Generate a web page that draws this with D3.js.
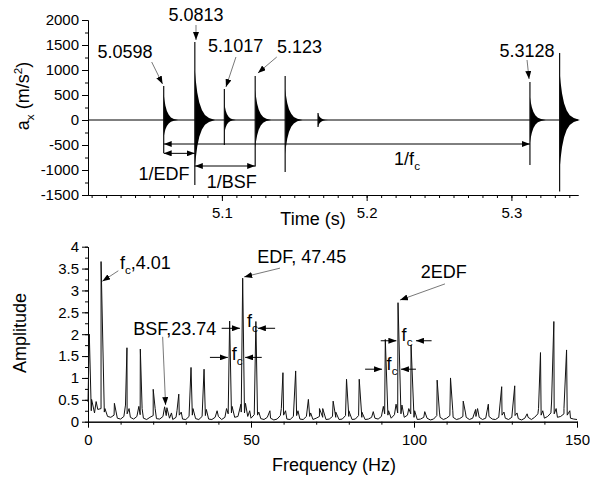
<!DOCTYPE html>
<html>
<head>
<meta charset="utf-8">
<script src="https://cdn.jsdelivr.net/npm/d3@7"></script>
<style>
  body { margin: 0; background: #fff; }
  svg text { font-family: "Liberation Sans", Arial, sans-serif; fill: #000; }
  .tick text { font-size: 15px; }
  .domain, .tick line { stroke: #000; }
</style>
</head>
<body>
<div class="chart"></div>
<script>
// ---- top panel: time signal (bursts) ----
var burstTime     = [5.0598, 5.0813, 5.1017, 5.123, 5.1437, 5.1664, 5.3128, 5.3333];
var burstSpikeUp  = [680, 1560, 620, 880, 880, 140, 760, 1340];
var burstSpikeDn  = [-660, -1300, -500, -930, -1040, -140, -900, -1430];
var burstBodyUp   = [520, 1000, 340, 600, 620, 140, 460, 960];
var burstBodyDn   = [-340, -960, -260, -560, -680, -140, -460, -980];
var burstLength   = [0.010, 0.014, 0.008, 0.011, 0.012, 0.007, 0.011, 0.014];
// shared decay envelope (fraction of burst length, fraction of body height)
var decayFrac = [0, 0.05, 0.12, 0.22, 0.35, 0.5, 0.7, 1];
var decayRel  = [1, 0.78, 0.55, 0.35, 0.2, 0.1, 0.04, 0];

var accelTicks = [-1500, -1000, -500, 0, 500, 1000, 1500, 2000];
var timeTicks  = [5.1, 5.2, 5.3];

// ---- bottom panel: spectrum ----
// noise floor every 1 Hz from 0 to 150 Hz
var floorAmp = [0.45,0.25,0.2,0.28,0.3,0.22,0.12,0.1,0.15,0.08,
  0.06,0.12,0.18,0.1,0.06,0.12,0.16,0.08,0.05,0.1,
  0.14,0.07,0.06,0.12,0.14,0.08,0.05,0.1,0.15,0.06,
  0.05,0.12,0.15,0.07,0.05,0.12,0.14,0.06,0.05,0.1,
  0.12,0.05,0.1,0.18,0.2,0.1,0.12,0.22,0.2,0.12,
  0.08,0.16,0.15,0.07,0.05,0.1,0.08,0.04,0.06,0.14,
  0.15,0.06,0.05,0.12,0.14,0.06,0.05,0.12,0.12,0.05,
  0.08,0.12,0.1,0.05,0.06,0.12,0.1,0.05,0.06,0.14,
  0.12,0.05,0.06,0.14,0.1,0.05,0.06,0.1,0.08,0.06,
  0.12,0.18,0.15,0.08,0.16,0.2,0.18,0.1,0.15,0.18,
  0.1,0.05,0.06,0.1,0.08,0.04,0.06,0.14,0.1,0.05,
  0.08,0.14,0.1,0.05,0.07,0.12,0.1,0.05,0.08,0.12,
  0.1,0.05,0.08,0.12,0.06,0.05,0.1,0.15,0.08,0.05,
  0.1,0.14,0.07,0.04,0.08,0.1,0.05,0.1,0.18,0.15,
  0.08,0.12,0.2,0.18,0.1,0.12,0.18,0.15,0.08,0.06,0.05];

var peakFreq = [0.4, 1.1, 2.5, 4.01, 5.2, 8.1, 11.5, 11.95, 12.6, 15.6, 16.05, 16.6,
  20.0, 20.6, 23.5, 24.2, 25.6, 27.3, 27.85, 28.6, 31.6, 32.2, 35.6, 36.3, 39.6,
  42.5, 43.45, 44.2, 46.9, 47.45, 48.3, 49.6, 51.5, 52.4, 55.8, 59.3, 59.8, 60.6,
  63.7, 64.4, 67.6, 68.3, 71.0, 72.0, 75.2, 76.0, 79.3, 80.0, 83.2, 84.0, 87.5,
  90.6, 91.2, 92.2, 94.5, 95.1, 96.3, 98.4, 99.1, 100.2, 103.3, 107.1, 107.8,
  111.2, 111.9, 115.1, 115.8, 118.9, 119.5, 122.8, 126.9, 127.6, 130.9, 131.6,
  134.7, 138.2, 138.8, 139.5, 142.2, 142.9, 143.6, 146.0, 146.8, 147.8];
var peakAmp = [2.0, 0.51, 0.46, 3.66, 0.3, 0.42, 0.38, 1.69, 0.3, 0.35, 1.66, 0.3,
  0.74, 0.3, 0.34, 0.32, 0.2, 0.25, 0.63, 0.22, 1.24, 0.3, 1.2, 0.28, 0.25,
  0.3, 2.3, 0.35, 0.4, 3.28, 0.42, 0.25, 2.29, 0.22, 0.25, 0.3, 1.12, 0.25,
  1.16, 0.25, 0.51, 0.2, 0.3, 0.3, 0.47, 0.22, 0.97, 0.25, 0.97, 0.22, 0.23,
  0.35, 1.88, 0.25, 0.4, 2.72, 0.38, 0.3, 1.75, 0.25, 0.23, 0.95, 0.22,
  1.0, 0.25, 0.47, 0.2, 0.28, 0.3, 0.4, 0.8, 0.22, 0.82, 0.2,
  0.18, 0.3, 1.58, 0.25, 0.45, 2.29, 0.3, 0.3, 1.64, 0.25];

var ampTicks  = [0, 0.5, 1, 1.5, 2, 2.5, 3, 3.5, 4];
var freqTicks = [0, 50, 100, 150];

var width = 590, height = 481;

var svg = d3.select(".chart").append("svg")
  .attr("width", width)
  .attr("height", height);

var defs = svg.append("defs");
defs.append("marker")
  .attr("id", "arrow")
  .attr("viewBox", "0 0 8 6")
  .attr("refX", 8).attr("refY", 3)
  .attr("markerWidth", 8).attr("markerHeight", 6)
  .attr("markerUnits", "userSpaceOnUse")
  .attr("orient", "auto-start-reverse")
  .append("path")
  .attr("d", "M0,0 L8,3 L0,6 Z")
  .attr("fill", "#000");

// text with sub/superscripts
function richText(sel, x, y, parts, size, anchor, transform) {
  var t = sel.append("text")
    .attr("x", x).attr("y", y)
    .attr("font-size", size)
    .attr("text-anchor", anchor || "start");
  if (transform) t.attr("transform", transform);
  var shift = 0;
  parts.forEach(function(p) {
    var target = p[1] === "sub" ? 5 : p[1] === "sup" ? -7 : 0;
    t.append("tspan")
      .attr("dy", target - shift)
      .attr("font-size", p[1] ? size * 0.65 : size)
      .text(p[0]);
    shift = target;
  });
  return t;
}

var plainNum = function(d) { return String(d); };

// ================= TOP PANEL =================
var xTime = d3.scaleLinear().domain([5.0075, 5.346]).range([88, 578]);
var yAcc  = d3.scaleLinear().domain([-1500, 2000]).range([195, 20]);

var topPanel = svg.append("g").attr("class", "topPanel");

// axes
topPanel.append("g")
  .attr("transform", "translate(0,195)")
  .call(d3.axisBottom(xTime)
    .tickValues(d3.range(501, 535).map(function(v) { return v / 100; }))
    .tickSize(3).tickSizeOuter(0).tickFormat(""));
topPanel.append("g")
  .attr("transform", "translate(0,195)")
  .call(d3.axisBottom(xTime).tickValues(timeTicks)
    .tickSize(6).tickSizeOuter(0).tickPadding(6)
    .tickFormat(d3.format(".1f")));
topPanel.append("g")
  .attr("transform", "translate(88,0)")
  .call(d3.axisLeft(yAcc).tickValues(d3.range(-1500, 2001, 250))
    .tickSize(3).tickSizeOuter(0).tickFormat(""));
topPanel.append("g")
  .attr("transform", "translate(88,0)")
  .call(d3.axisLeft(yAcc).tickValues(accelTicks)
    .tickSize(6).tickSizeOuter(0).tickPadding(3).tickFormat(plainNum));

// zero line
topPanel.append("line")
  .attr("x1", xTime(5.0075)).attr("x2", xTime(5.346))
  .attr("y1", yAcc(0)).attr("y2", yAcc(0))
  .attr("stroke", "#000").attr("stroke-width", 1);

// bursts
var burstArea = d3.area()
  .x(function(d) { return xTime(d.t); })
  .y0(function(d) { return yAcc(d.lo); })
  .y1(function(d) { return yAcc(d.hi); });

burstTime.forEach(function(t0, i) {
  var pts = decayFrac.map(function(f, k) {
    return { t: t0 + f * burstLength[i],
             hi: burstBodyUp[i] * decayRel[k],
             lo: burstBodyDn[i] * decayRel[k] };
  });
  topPanel.append("path").attr("d", burstArea(pts)).attr("fill", "#000");
  topPanel.append("line")
    .attr("x1", xTime(t0)).attr("x2", xTime(t0))
    .attr("y1", yAcc(burstSpikeDn[i])).attr("y2", yAcc(burstSpikeUp[i]))
    .attr("stroke", "#111").attr("stroke-width", 1.2);
});

// peak time labels
var timeLabels = [
  { text: "5.0598", t: 5.0331, v: 1240, from: [5.0515, 1160], to: [5.0590, 720] },
  { text: "5.0813", t: 5.0821, v: 1980, from: [5.0821, 1900], to: [5.0821, 1600] },
  { text: "5.1017", t: 5.1095, v: 1360, from: [5.1097, 1260], to: [5.1028, 660] },
  { text: "5.123",  t: 5.1536, v: 1340, from: [5.1379, 1260], to: [5.1249, 940] },
  { text: "5.3128", t: 5.3108, v: 1260, from: [5.3108, 1200], to: [5.3122, 820] }
];
timeLabels.forEach(function(d) {
  topPanel.append("text")
    .attr("x", xTime(d.t)).attr("y", yAcc(d.v))
    .attr("text-anchor", "middle").attr("font-size", 18)
    .text(d.text);
  topPanel.append("line")
    .attr("x1", xTime(d.from[0])).attr("y1", yAcc(d.from[1]))
    .attr("x2", xTime(d.to[0])).attr("y2", yAcc(d.to[1]))
    .attr("stroke", "#555").attr("stroke-width", 0.8)
    .attr("marker-end", "url(#arrow)");
});

// period brackets
var periods = [
  { t1: 5.0598, t2: 5.3128, v: -480, label: [["1/f"], ["c", "sub"]], lt: 5.2279, lv: -900 },
  { t1: 5.0598, t2: 5.0813, v: -667, label: [["1/EDF"]], lt: 5.0600, lv: -1200 },
  { t1: 5.0813, t2: 5.123,  v: -920, label: [["1/BSF"]], lt: 5.1068, lv: -1360 }
];
periods.forEach(function(d) {
  topPanel.append("line")
    .attr("x1", xTime(d.t1)).attr("x2", xTime(d.t2))
    .attr("y1", yAcc(d.v)).attr("y2", yAcc(d.v))
    .attr("stroke", "#000").attr("stroke-width", 1)
    .attr("marker-start", "url(#arrow)")
    .attr("marker-end", "url(#arrow)");
  richText(topPanel, xTime(d.lt), yAcc(d.lv), d.label, 18, "middle");
});

// axis titles
richText(topPanel, 0, 0, [["a"], ["x", "sub"], [" (m/s"], ["2", "sup"], [")"]], 18, "middle",
  "translate(29,96) rotate(-90)");
topPanel.append("text").attr("x", 313).attr("y", 225)
  .attr("text-anchor", "middle").attr("font-size", 18).text("Time (s)");

// ================= BOTTOM PANEL =================
var xFreq = d3.scaleLinear().domain([0, 150]).range([88, 577]);
var yAmp  = d3.scaleLinear().domain([0, 4]).range([421.7, 246.7]);

var botPanel = svg.append("g").attr("class", "bottomPanel");

botPanel.append("g")
  .attr("transform", "translate(0,421.7)")
  .call(d3.axisBottom(xFreq).tickValues(d3.range(0, 151, 10))
    .tickSize(3).tickSizeOuter(0).tickFormat(""));
botPanel.append("g")
  .attr("transform", "translate(0,421.7)")
  .call(d3.axisBottom(xFreq).tickValues(freqTicks)
    .tickSize(6).tickSizeOuter(0).tickPadding(7).tickFormat(plainNum));
botPanel.append("g")
  .attr("transform", "translate(88,0)")
  .call(d3.axisLeft(yAmp).tickValues(d3.range(0, 17).map(function(i) { return i * 0.25; }))
    .tickSize(3).tickSizeOuter(0).tickFormat(""));
botPanel.append("g")
  .attr("transform", "translate(88,0)")
  .call(d3.axisLeft(yAmp).tickValues(ampTicks)
    .tickSize(6).tickSizeOuter(0).tickPadding(3).tickFormat(plainNum));

// spectrum trace: floor samples merged with peaks
var spec = floorAmp.map(function(a, i) { return [i, a]; })
  .concat(peakFreq.map(function(f, i) { return [f, peakAmp[i]]; }))
  .sort(function(a, b) { return a[0] - b[0]; });

var specLine = d3.line()
  .x(function(d) { return xFreq(d[0]); })
  .y(function(d) { return yAmp(d[1]); });

botPanel.append("path")
  .attr("d", specLine(spec))
  .attr("fill", "none")
  .attr("stroke", "#111")
  .attr("stroke-width", 1)
  .attr("stroke-linejoin", "miter");

// peak labels with arrows
var freqLabels = [
  { parts: [["f"], ["c", "sub"], [",4.01"]], f: 9.8, a: 3.49, from: [9.3, 3.45], to: [4.4, 3.21] },
  { parts: [["EDF, 47.45"]], f: 51.9, a: 3.63, from: [58.9, 3.51], to: [47.9, 3.31] },
  { parts: [["2EDF"]], f: 102.1, a: 3.28, from: [109.5, 3.15], to: [95.7, 2.78] },
  { parts: [["BSF,23.74"]], f: 13.9, a: 1.98, from: [22.9, 1.94], to: [23.8, 0.38] }
];
freqLabels.forEach(function(d) {
  richText(botPanel, xFreq(d.f), yAmp(d.a), d.parts, 18, "start");
  botPanel.append("line")
    .attr("x1", xFreq(d.from[0])).attr("y1", yAmp(d.from[1]))
    .attr("x2", xFreq(d.to[0])).attr("y2", yAmp(d.to[1]))
    .attr("stroke", "#555").attr("stroke-width", 0.8)
    .attr("marker-end", "url(#arrow)");
});

// sideband spacing marks (arrows point inward at the two peaks)
var spacings = [
  { a: 2.135, left: [41.0, 46.6], right: [57.4, 52.1], tf: 48.8, ta: 2.16 },
  { a: 1.47,  left: [37.4, 42.9], right: [53.3, 48.2], tf: 44.1, ta: 1.41 },
  { a: 1.85,  left: [89.8, 94.6], right: [105.4, 100.6], tf: 96.2, ta: 1.84 },
  { a: 1.2,   left: [85.0, 90.2], right: [100.6, 96.0], tf: 91.6, ta: 1.18 }
];
spacings.forEach(function(d) {
  [d.left, d.right].forEach(function(seg) {
    botPanel.append("line")
      .attr("x1", xFreq(seg[0])).attr("x2", xFreq(seg[1]))
      .attr("y1", yAmp(d.a)).attr("y2", yAmp(d.a))
      .attr("stroke", "#000").attr("stroke-width", 1)
      .attr("marker-end", "url(#arrow)");
  });
  richText(botPanel, xFreq(d.tf), yAmp(d.ta), [["f"], ["c", "sub"]], 18, "start");
});

// axis titles
botPanel.append("text")
  .attr("transform", "translate(26,333) rotate(-90)")
  .attr("text-anchor", "middle").attr("font-size", 18).text("Amplitude");
botPanel.append("text").attr("x", 334).attr("y", 471)
  .attr("text-anchor", "middle").attr("font-size", 18).text("Frequency (Hz)");
</script>
</body>
</html>
